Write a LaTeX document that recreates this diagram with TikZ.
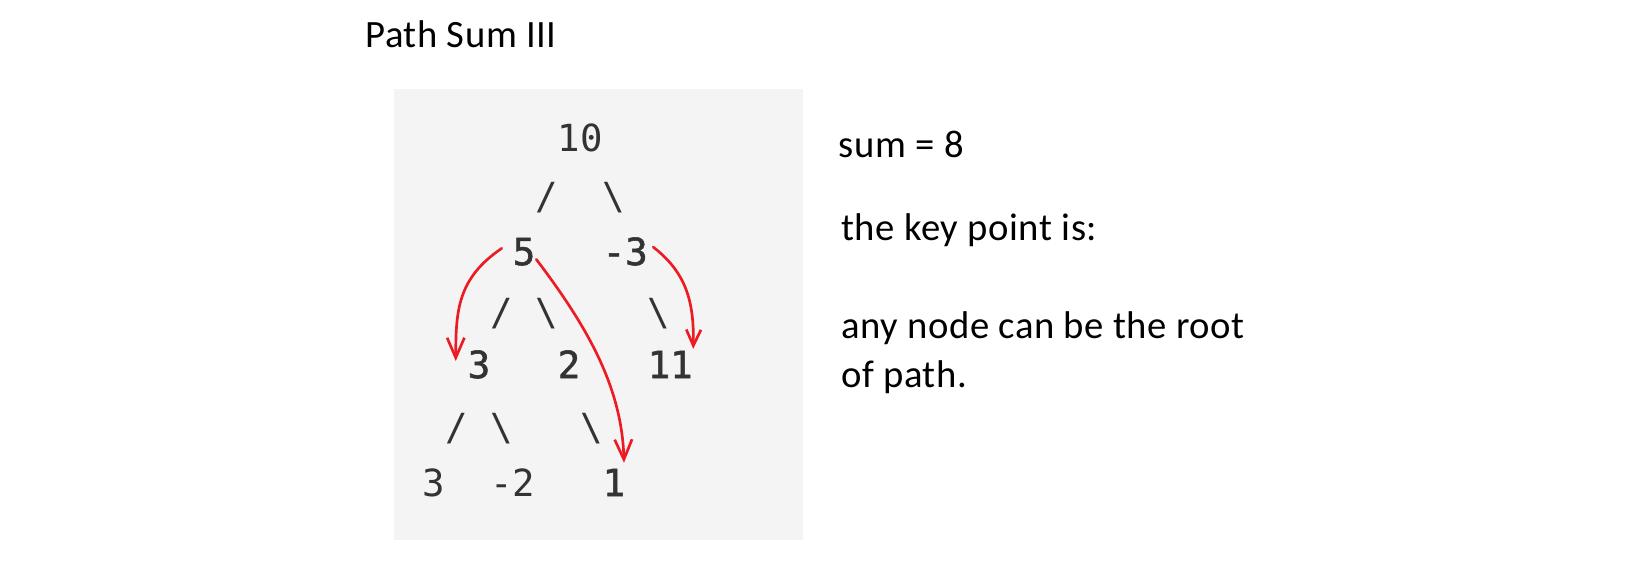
\documentclass[tikz,border=0pt]{standalone}
\usepackage{fontspec}
\setmainfont[LetterSpace=1.5]{Carlito}
\newfontfamily\treefont{DejaVu Sans Mono}
\newfontfamily\treefontb[FakeBold=1.5]{DejaVu Sans Mono}
\usetikzlibrary{arrows.meta,calc}
\definecolor{boxgray}{HTML}{F4F4F4}
\definecolor{treetext}{HTML}{333333}
\definecolor{penred}{HTML}{ED1C24}
\tikzset{
  tnum/.style={font=\treefont\fontsize{28}{28}\selectfont, text=treetext, inner sep=0pt, anchor=base},
  tnumb/.style={tnum, font=\treefontb\fontsize{28}{28}\selectfont},
  txtlabel/.style={font=\fontsize{29}{29}\selectfont, text=black, inner sep=0pt, anchor=base west},
  redarrow/.style={draw=penred, line width=2pt, line cap=round,
    -{Straight Barb[length=15pt,width=13pt]}},
  redarrowsmall/.style={redarrow, -{Straight Barb[length=12pt,width=11pt]}},
}
\begin{document}
\begin{tikzpicture}[x=0.75pt,y=-0.75pt]
\useasboundingbox (0,0) rectangle (1634,587);
\fill[boxgray] (394,89) rectangle (803,540);

% title and notes
\node[txtlabel] (title) at (365,47) {Path Sum III};
\node[txtlabel] (sum) at (838.5,157) {sum = 8};
\node[txtlabel] (key) at (841,240) {the key point is:};
\node[txtlabel] (any) at (841,338) {any node can be the root};
\node[txtlabel] (ofp) at (841,387) {of path.};

% tree rows
\node[tnum] (n10) at (580.25,151) {10};
\node[tnum] (s1a) at (546.5,209.5) {/};
\node[tnum] (s1b) at (614,209.5) {\textbackslash};
\node[tnumb] (n5) at (524,265) {5};
\node[tnumb] (nm3) at (625.25,265) {-3};
\node[tnum] (s3a) at (501.5,325) {/};
\node[tnum] (s3b) at (546.5,325) {\textbackslash};
\node[tnum] (s3c) at (659,325) {\textbackslash};
\node[tnumb] (n3a) at (479,378) {3};
\node[tnumb] (n2) at (569,378) {2};
\node[tnumb] (n11) at (670.25,378) {11};
\node[tnum] (s5a) at (456.5,440) {/};
\node[tnum] (s5b) at (501.5,440) {\textbackslash};
\node[tnum] (s5c) at (591.5,440) {\textbackslash};
\node[tnum] (n3b) at (434,496) {3};
\node[tnum] (nm2) at (512.75,496) {-2};
\node[tnumb] (n1) at (614,496) {1};

% red arrows
\draw[redarrow] ($(n5.west)+(-10.75,-3.35)$)
  .. controls ($(n5.west)+(-54.75,26.65)$) and ($(n3a.west)+(-11.75,-54.35)$)
  .. ($(n3a.west)+(-11.75,-3.35)$);
\draw[redarrow] ($(n5.east)+(0.75,7.65)$)
  .. controls ($(n5.east)+(54.75,78.65)$) and ($(n1.north)+(8,-78.7)$)
  .. ($(n1.north)+(10,-5.7)$);
\draw[redarrowsmall] ($(nm3.east)+(5.25,-4.35)$)
  .. controls ($(nm3.east)+(37.25,20.65)$) and ($(n11.north east)+(1.25,-50.7)$)
  .. ($(n11.north east)+(0.25,-1.7)$);
\end{tikzpicture}
\end{document}
